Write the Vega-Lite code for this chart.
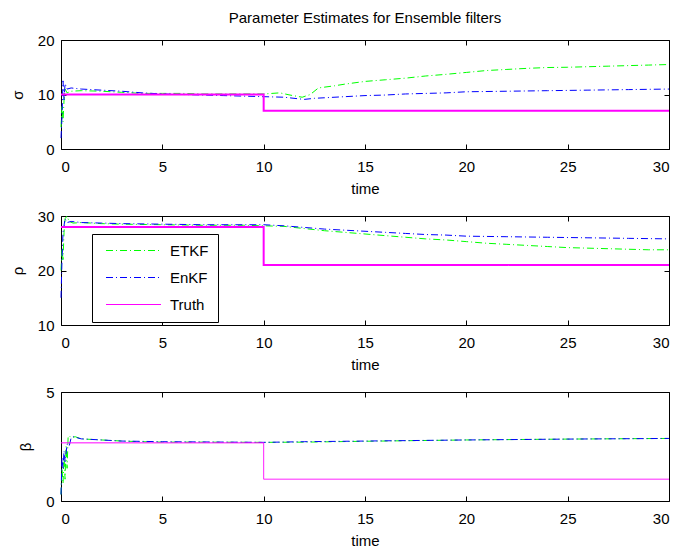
{
  "$schema": "https://vega.github.io/schema/vega-lite/v6.json",
  "padding": {"left": 9, "top": 10, "right": 5, "bottom": 5},
  "background": "white",
  "spacing": 67,
  "bounds": "flush",
  "resolve": {"scale": {"color": "independent", "strokeDash": "independent"}, "legend": {"color": "independent", "strokeDash": "independent"}},
  "config": {
    "font": "Liberation Sans",
    "view": {"stroke": "black", "strokeWidth": 1},
    "axis": {"domain": false, "grid": false, "tickColor": "black", "tickSize": -5, "labelColor": "black", "titleColor": "black", "labelFont": "Liberation Sans", "titleFont": "Liberation Sans", "labelFontSize": 15, "titleFontSize": 15, "titleFontWeight": "normal"},
    "title": {"font": "Liberation Sans", "fontSize": 15, "fontWeight": "normal", "color": "black"}
  },
  "datasets": {
    "sigma": [
      {"t": 0, "value": 4, "series": "ETKF"}, {"t": 0.05, "value": 8, "series": "ETKF"}, {"t": 0.1, "value": 5, "series": "ETKF"}, {"t": 0.15, "value": 9, "series": "ETKF"}, {"t": 0.2, "value": 11, "series": "ETKF"}, {"t": 0.3, "value": 10.3, "series": "ETKF"}, {"t": 0.5, "value": 10.6, "series": "ETKF"}, {"t": 1, "value": 10.7, "series": "ETKF"}, {"t": 2, "value": 10.6, "series": "ETKF"}, {"t": 3, "value": 10.4, "series": "ETKF"}, {"t": 4, "value": 10.2, "series": "ETKF"}, {"t": 5, "value": 10.2, "series": "ETKF"}, {"t": 6, "value": 10.2, "series": "ETKF"}, {"t": 7, "value": 10.1, "series": "ETKF"}, {"t": 8, "value": 10.1, "series": "ETKF"}, {"t": 9, "value": 10.1, "series": "ETKF"}, {"t": 10, "value": 10.1, "series": "ETKF"}, {"t": 10.8, "value": 10.3, "series": "ETKF"}, {"t": 11.3, "value": 9.9, "series": "ETKF"}, {"t": 11.9, "value": 9.5, "series": "ETKF"}, {"t": 12.3, "value": 10.0, "series": "ETKF"}, {"t": 12.7, "value": 11.2, "series": "ETKF"}, {"t": 13.5, "value": 11.6, "series": "ETKF"}, {"t": 14, "value": 11.9, "series": "ETKF"}, {"t": 15, "value": 12.4, "series": "ETKF"}, {"t": 16, "value": 12.7, "series": "ETKF"}, {"t": 17, "value": 13.0, "series": "ETKF"}, {"t": 18, "value": 13.4, "series": "ETKF"}, {"t": 19, "value": 13.7, "series": "ETKF"}, {"t": 20, "value": 14.05, "series": "ETKF"}, {"t": 21, "value": 14.4, "series": "ETKF"}, {"t": 22, "value": 14.6, "series": "ETKF"}, {"t": 23, "value": 14.8, "series": "ETKF"}, {"t": 24, "value": 14.95, "series": "ETKF"}, {"t": 25, "value": 15.0, "series": "ETKF"}, {"t": 26, "value": 15.1, "series": "ETKF"}, {"t": 27, "value": 15.2, "series": "ETKF"}, {"t": 28, "value": 15.3, "series": "ETKF"}, {"t": 29, "value": 15.4, "series": "ETKF"}, {"t": 30, "value": 15.5, "series": "ETKF"},
      {"t": 0, "value": 2, "series": "EnKF"}, {"t": 0.05, "value": 6, "series": "EnKF"}, {"t": 0.1, "value": 12.5, "series": "EnKF"}, {"t": 0.15, "value": 9, "series": "EnKF"}, {"t": 0.2, "value": 12, "series": "EnKF"}, {"t": 0.3, "value": 11, "series": "EnKF"}, {"t": 0.5, "value": 11.2, "series": "EnKF"}, {"t": 1, "value": 11.0, "series": "EnKF"}, {"t": 2, "value": 10.8, "series": "EnKF"}, {"t": 3, "value": 10.6, "series": "EnKF"}, {"t": 4, "value": 10.3, "series": "EnKF"}, {"t": 5, "value": 10.1, "series": "EnKF"}, {"t": 6, "value": 10.0, "series": "EnKF"}, {"t": 7, "value": 9.9, "series": "EnKF"}, {"t": 8, "value": 9.8, "series": "EnKF"}, {"t": 9, "value": 9.7, "series": "EnKF"}, {"t": 10, "value": 9.6, "series": "EnKF"}, {"t": 11, "value": 9.5, "series": "EnKF"}, {"t": 12, "value": 9.1, "series": "EnKF"}, {"t": 12.5, "value": 9.3, "series": "EnKF"}, {"t": 13, "value": 9.4, "series": "EnKF"}, {"t": 14, "value": 9.6, "series": "EnKF"}, {"t": 15, "value": 9.8, "series": "EnKF"}, {"t": 16, "value": 9.9, "series": "EnKF"}, {"t": 17, "value": 10.1, "series": "EnKF"}, {"t": 18, "value": 10.2, "series": "EnKF"}, {"t": 19, "value": 10.3, "series": "EnKF"}, {"t": 20, "value": 10.5, "series": "EnKF"}, {"t": 22, "value": 10.6, "series": "EnKF"}, {"t": 24, "value": 10.7, "series": "EnKF"}, {"t": 26, "value": 10.8, "series": "EnKF"}, {"t": 28, "value": 10.9, "series": "EnKF"}, {"t": 30, "value": 11.0, "series": "EnKF"},
      {"t": 0, "value": 10, "series": "Truth"}, {"t": 10, "value": 7, "series": "Truth"}, {"t": 30, "value": 7, "series": "Truth"}
    ],
    "rho": [
      {"t": 0, "value": 20, "series": "ETKF"}, {"t": 0.05, "value": 24, "series": "ETKF"}, {"t": 0.1, "value": 22, "series": "ETKF"}, {"t": 0.15, "value": 27, "series": "ETKF"}, {"t": 0.2, "value": 29.5, "series": "ETKF"}, {"t": 0.3, "value": 30, "series": "ETKF"}, {"t": 0.4, "value": 29, "series": "ETKF"}, {"t": 0.6, "value": 28.7, "series": "ETKF"}, {"t": 1, "value": 28.8, "series": "ETKF"}, {"t": 2, "value": 28.6, "series": "ETKF"}, {"t": 3, "value": 28.5, "series": "ETKF"}, {"t": 5, "value": 28.4, "series": "ETKF"}, {"t": 7, "value": 28.3, "series": "ETKF"}, {"t": 9, "value": 28.3, "series": "ETKF"}, {"t": 10, "value": 28.2, "series": "ETKF"}, {"t": 11, "value": 28.1, "series": "ETKF"}, {"t": 12, "value": 27.7, "series": "ETKF"}, {"t": 13, "value": 27.3, "series": "ETKF"}, {"t": 14, "value": 27.0, "series": "ETKF"}, {"t": 15, "value": 26.7, "series": "ETKF"}, {"t": 16, "value": 26.4, "series": "ETKF"}, {"t": 17, "value": 26.1, "series": "ETKF"}, {"t": 18, "value": 25.8, "series": "ETKF"}, {"t": 19, "value": 25.6, "series": "ETKF"}, {"t": 20, "value": 25.3, "series": "ETKF"}, {"t": 21, "value": 25.0, "series": "ETKF"}, {"t": 22, "value": 24.8, "series": "ETKF"}, {"t": 23, "value": 24.6, "series": "ETKF"}, {"t": 24, "value": 24.4, "series": "ETKF"}, {"t": 25, "value": 24.2, "series": "ETKF"}, {"t": 26, "value": 24.1, "series": "ETKF"}, {"t": 27, "value": 24.0, "series": "ETKF"}, {"t": 28, "value": 23.9, "series": "ETKF"}, {"t": 29, "value": 23.8, "series": "ETKF"}, {"t": 30, "value": 23.8, "series": "ETKF"},
      {"t": 0, "value": 15, "series": "EnKF"}, {"t": 0.05, "value": 22, "series": "EnKF"}, {"t": 0.1, "value": 27, "series": "EnKF"}, {"t": 0.2, "value": 29.5, "series": "EnKF"}, {"t": 0.3, "value": 28.8, "series": "EnKF"}, {"t": 0.5, "value": 29, "series": "EnKF"}, {"t": 1, "value": 28.8, "series": "EnKF"}, {"t": 2, "value": 28.7, "series": "EnKF"}, {"t": 3, "value": 28.6, "series": "EnKF"}, {"t": 5, "value": 28.5, "series": "EnKF"}, {"t": 7, "value": 28.4, "series": "EnKF"}, {"t": 9, "value": 28.4, "series": "EnKF"}, {"t": 10, "value": 28.4, "series": "EnKF"}, {"t": 11, "value": 28.2, "series": "EnKF"}, {"t": 12, "value": 27.9, "series": "EnKF"}, {"t": 13, "value": 27.6, "series": "EnKF"}, {"t": 14, "value": 27.4, "series": "EnKF"}, {"t": 15, "value": 27.2, "series": "EnKF"}, {"t": 16, "value": 27.0, "series": "EnKF"}, {"t": 17, "value": 26.8, "series": "EnKF"}, {"t": 18, "value": 26.6, "series": "EnKF"}, {"t": 19, "value": 26.5, "series": "EnKF"}, {"t": 20, "value": 26.3, "series": "EnKF"}, {"t": 22, "value": 26.2, "series": "EnKF"}, {"t": 24, "value": 26.1, "series": "EnKF"}, {"t": 26, "value": 26.0, "series": "EnKF"}, {"t": 28, "value": 25.9, "series": "EnKF"}, {"t": 30, "value": 25.8, "series": "EnKF"},
      {"t": 0, "value": 28, "series": "Truth"}, {"t": 10, "value": 21, "series": "Truth"}, {"t": 30, "value": 21, "series": "Truth"}
    ],
    "beta": [
      {"t": 0, "value": 0.3, "series": "ETKF"}, {"t": 0.05, "value": 1.5, "series": "ETKF"}, {"t": 0.1, "value": 0.8, "series": "ETKF"}, {"t": 0.15, "value": 2.0, "series": "ETKF"}, {"t": 0.2, "value": 1.0, "series": "ETKF"}, {"t": 0.25, "value": 2.5, "series": "ETKF"}, {"t": 0.3, "value": 1.5, "series": "ETKF"}, {"t": 0.35, "value": 2.9, "series": "ETKF"}, {"t": 0.4, "value": 3.0, "series": "ETKF"}, {"t": 0.5, "value": 2.9, "series": "ETKF"}, {"t": 0.7, "value": 2.95, "series": "ETKF"}, {"t": 1, "value": 2.85, "series": "ETKF"}, {"t": 2, "value": 2.8, "series": "ETKF"}, {"t": 3, "value": 2.75, "series": "ETKF"}, {"t": 4, "value": 2.72, "series": "ETKF"}, {"t": 5, "value": 2.7, "series": "ETKF"}, {"t": 7, "value": 2.7, "series": "ETKF"}, {"t": 10, "value": 2.69, "series": "ETKF"}, {"t": 12, "value": 2.7, "series": "ETKF"}, {"t": 15, "value": 2.74, "series": "ETKF"}, {"t": 20, "value": 2.8, "series": "ETKF"}, {"t": 25, "value": 2.84, "series": "ETKF"}, {"t": 30, "value": 2.87, "series": "ETKF"},
      {"t": 0, "value": 0.3, "series": "EnKF"}, {"t": 0.05, "value": 2.0, "series": "EnKF"}, {"t": 0.1, "value": 1.5, "series": "EnKF"}, {"t": 0.15, "value": 2.3, "series": "EnKF"}, {"t": 0.2, "value": 1.8, "series": "EnKF"}, {"t": 0.3, "value": 2.6, "series": "EnKF"}, {"t": 0.4, "value": 2.5, "series": "EnKF"}, {"t": 0.5, "value": 2.9, "series": "EnKF"}, {"t": 0.6, "value": 2.95, "series": "EnKF"}, {"t": 1, "value": 2.85, "series": "EnKF"}, {"t": 2, "value": 2.8, "series": "EnKF"}, {"t": 3, "value": 2.75, "series": "EnKF"}, {"t": 5, "value": 2.72, "series": "EnKF"}, {"t": 10, "value": 2.69, "series": "EnKF"}, {"t": 12, "value": 2.72, "series": "EnKF"}, {"t": 15, "value": 2.75, "series": "EnKF"}, {"t": 20, "value": 2.8, "series": "EnKF"}, {"t": 25, "value": 2.84, "series": "EnKF"}, {"t": 30, "value": 2.87, "series": "EnKF"},
      {"t": 0, "value": 2.667, "series": "Truth"}, {"t": 10, "value": 1, "series": "Truth"}, {"t": 30, "value": 1, "series": "Truth"}
    ]
  },
  "vconcat": [
    {
      "width": 608, "height": 109,
      "title": {"text": "Parameter Estimates for Ensemble filters", "offset": 7},
      "data": {"name": "sigma"},
      "resolve": {"axis": {"x": "independent", "y": "independent"}},
      "layer": [
        {
          "transform": [{"filter": "datum.series != 'Truth'"}],
          "mark": {"type": "line", "strokeWidth": 1},
          "encoding": {
            "x": {"field": "t", "type": "quantitative", "scale": {"domain": [0, 30], "nice": false}, "axis": {"title": "time", "values": [0, 5, 10, 15, 20, 25, 30], "labelPadding": 15, "titlePadding": 7}},
            "y": {"field": "value", "type": "quantitative", "scale": {"domain": [0, 20], "nice": false}, "axis": {"title": "σ", "values": [0, 10, 20], "labelPadding": 12, "titlePadding": 12}},
            "color": {"field": "series", "type": "nominal", "scale": {"domain": ["ETKF", "EnKF", "Truth"], "range": ["#00ff00", "#0000ff", "#ff00ff"]}, "legend": null},
            "strokeDash": {"field": "series", "type": "nominal", "scale": {"domain": ["ETKF", "EnKF", "Truth"], "range": [[7, 3, 1, 3], [7, 3, 1, 3], [1, 0]]}, "legend": null}
          }
        },
        {
          "transform": [{"filter": "datum.series == 'Truth'"}],
          "mark": {"type": "line", "strokeWidth": 2, "interpolate": "step-after"},
          "encoding": {
            "x": {"field": "t", "type": "quantitative", "axis": {"orient": "top", "title": null, "labels": false, "values": [0, 5, 10, 15, 20, 25, 30]}},
            "y": {"field": "value", "type": "quantitative", "axis": {"orient": "right", "title": null, "labels": false, "values": [0, 10, 20]}},
            "color": {"field": "series", "type": "nominal", "legend": null},
            "strokeDash": {"field": "series", "type": "nominal", "legend": null}
          }
        }
      ]
    },
    {
      "width": 608, "height": 109,
      "data": {"name": "rho"},
      "resolve": {"axis": {"x": "independent", "y": "independent"}},
      "layer": [
        {
          "transform": [{"filter": "datum.series != 'Truth'"}],
          "mark": {"type": "line", "strokeWidth": 1},
          "encoding": {
            "x": {"field": "t", "type": "quantitative", "scale": {"domain": [0, 30], "nice": false}, "axis": {"title": "time", "values": [0, 5, 10, 15, 20, 25, 30], "labelPadding": 15, "titlePadding": 7}},
            "y": {"field": "value", "type": "quantitative", "scale": {"domain": [10, 30], "nice": false}, "axis": {"title": "ρ", "values": [10, 20, 30], "labelPadding": 12, "titlePadding": 12}},
            "color": {"field": "series", "type": "nominal", "scale": {"domain": ["ETKF", "EnKF", "Truth"], "range": ["#00ff00", "#0000ff", "#ff00ff"]},
              "legend": {"title": null, "orient": "none", "legendX": 31, "legendY": 18, "direction": "vertical", "strokeColor": "black", "fillColor": "white", "padding": 9, "labelFontSize": 15, "labelColor": "black", "labelFont": "Liberation Sans", "symbolType": "M-5,0H5", "symbolSize": 121, "symbolStrokeWidth": 1, "symbolOffset": 25, "rowPadding": 11, "labelOffset": 29}},
            "strokeDash": {"field": "series", "type": "nominal", "scale": {"domain": ["ETKF", "EnKF", "Truth"], "range": [[7, 3, 1, 3], [7, 3, 1, 3], [1, 0]]},
              "legend": {"title": null, "orient": "none", "legendX": 31, "legendY": 18, "direction": "vertical", "strokeColor": "black", "fillColor": "white", "padding": 9, "labelFontSize": 15, "labelColor": "black", "labelFont": "Liberation Sans", "symbolType": "M-5,0H5", "symbolSize": 121, "symbolStrokeWidth": 1, "symbolOffset": 25, "rowPadding": 11, "labelOffset": 29}}
          }
        },
        {
          "transform": [{"filter": "datum.series == 'Truth'"}],
          "mark": {"type": "line", "strokeWidth": 2, "interpolate": "step-after"},
          "encoding": {
            "x": {"field": "t", "type": "quantitative", "axis": {"orient": "top", "title": null, "labels": false, "values": [0, 5, 10, 15, 20, 25, 30]}},
            "y": {"field": "value", "type": "quantitative", "axis": {"orient": "right", "title": null, "labels": false, "values": [10, 20, 30]}},
            "color": {"field": "series", "type": "nominal"},
            "strokeDash": {"field": "series", "type": "nominal"}
          }
        }
      ]
    },
    {
      "width": 608, "height": 109,
      "data": {"name": "beta"},
      "resolve": {"axis": {"x": "independent", "y": "independent"}},
      "layer": [
        {
          "transform": [{"filter": "datum.series != 'Truth'"}],
          "mark": {"type": "line", "strokeWidth": 1},
          "encoding": {
            "x": {"field": "t", "type": "quantitative", "scale": {"domain": [0, 30], "nice": false}, "axis": {"title": "time", "values": [0, 5, 10, 15, 20, 25, 30], "labelPadding": 15, "titlePadding": 7}},
            "y": {"field": "value", "type": "quantitative", "scale": {"domain": [0, 5], "nice": false}, "axis": {"title": "β", "values": [0, 5], "labelPadding": 12, "titlePadding": 12}},
            "color": {"field": "series", "type": "nominal", "scale": {"domain": ["ETKF", "EnKF", "Truth"], "range": ["#00ff00", "#0000ff", "#ff00ff"]}, "legend": null},
            "strokeDash": {"field": "series", "type": "nominal", "scale": {"domain": ["ETKF", "EnKF", "Truth"], "range": [[7, 3, 1, 3], [7, 3, 1, 3], [1, 0]]}, "legend": null}
          }
        },
        {
          "transform": [{"filter": "datum.series == 'Truth'"}],
          "mark": {"type": "line", "strokeWidth": 1, "interpolate": "step-after"},
          "encoding": {
            "x": {"field": "t", "type": "quantitative", "axis": {"orient": "top", "title": null, "labels": false, "values": [0, 5, 10, 15, 20, 25, 30]}},
            "y": {"field": "value", "type": "quantitative", "axis": {"orient": "right", "title": null, "labels": false, "values": [0, 5]}},
            "color": {"field": "series", "type": "nominal", "legend": null},
            "strokeDash": {"field": "series", "type": "nominal", "legend": null}
          }
        }
      ]
    }
  ]
}
